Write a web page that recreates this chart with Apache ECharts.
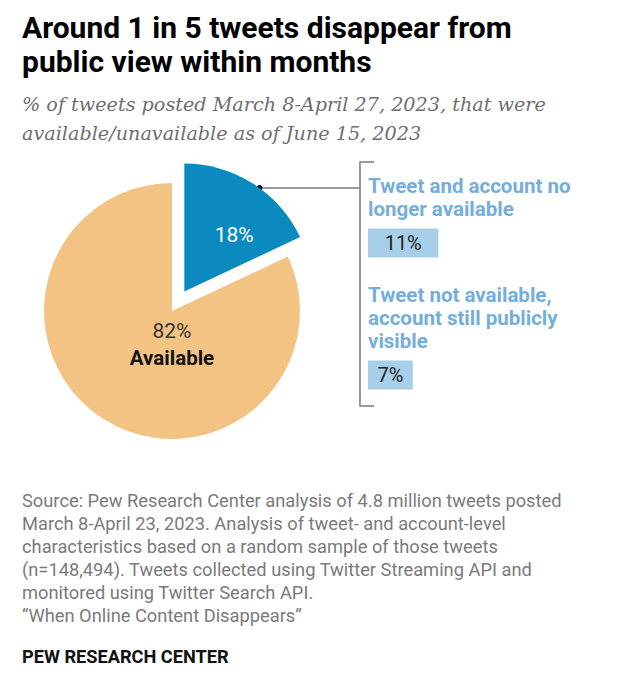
<!DOCTYPE html>
<html>
<head>
    <meta charset="utf-8">
    <title>Tweets disappearing</title>
    <script src="https://cdn.jsdelivr.net/npm/echarts@6/dist/echarts.min.js"></script>
    <style>
        body { margin: 0; background: #fff; }
    </style>
</head>
<body>
    <div id="main" style="width: 624px;height:680px;"></div>

    <script type="text/javascript">
        // data
        var sliceNames = ['Not available', 'Available']
        var sliceValues = [18, 82]
        var breakdownNames = [
            'Tweet and account no\nlonger available',
            'Tweet not available,\naccount still publicly\nvisible'
        ]
        var breakdownValues = [11, 7]

        var titleText = 'Around 1 in 5 tweets disappear from\npublic view within months'
        var subText = '% of tweets posted March 8-April 27, 2023, that were\navailable/unavailable as of June 15, 2023'
        var sourceText = 'Source: Pew Research Center analysis of 4.8 million tweets posted\n' +
            'March 8-April 23, 2023. Analysis of tweet- and account-level\n' +
            'characteristics based on a random sample of those tweets\n' +
            '(n=148,494). Tweets collected using Twitter Streaming API and\n' +
            'monitored using Twitter Search API.\n' +
            '\u201cWhen Online Content Disappears\u201d'

        var font = 'Roboto, "Liberation Sans", sans-serif'

        // pie geometry
        var cx = 172, cy = 311, R = 128, pull = 23

        var drawChart = function () {
            var myChart = echarts.init(document.getElementById('main'), null, {renderer: 'svg'})

            // connector from the pulled-out slice to the bracket
            var total = sliceValues[0] + sliceValues[1]
            var mid = (90 - sliceValues[0] / total * 180 - 3) * Math.PI / 180
            var sx = cx + pull * Math.cos(mid)
            var sy = cy - pull * Math.sin(mid)
            var dotX = sx + R * Math.cos(mid)
            var dotY = sy - R * Math.sin(mid)
            var bx = 360, bTop = 162, bBottom = 406, tick = 14

            var option = {
                animation: false,
                title: [{
                    text: titleText,
                    left: 22, top: 10, padding: 0,
                    textStyle: {fontFamily: font, fontSize: 30, fontWeight: 'bold', color: '#000', lineHeight: 34}
                }, {
                    text: subText,
                    left: 22, top: 90, padding: 0,
                    textStyle: {fontFamily: '"DejaVu Serif", serif', fontStyle: 'italic', fontSize: 19.2, fontWeight: 'normal', color: '#6e6e6e', lineHeight: 29}
                }, {
                    text: sourceText,
                    left: 22, top: 489, padding: 0,
                    textStyle: {fontFamily: font, fontSize: 18.3, fontWeight: 'normal', color: '#7a7a7a', lineHeight: 23}
                }, {
                    text: 'PEW RESEARCH CENTER',
                    left: 22, top: 646, padding: 0,
                    textStyle: {fontFamily: font, fontSize: 18.2, fontWeight: 'bold', color: '#111', lineHeight: 20}
                }],
                grid: {left: 368, top: 177, width: 192, height: 264},
                xAxis: {type: 'value', min: 0, max: 30, show: false},
                yAxis: {
                    type: 'category',
                    inverse: true,
                    data: breakdownNames,
                    axisLine: {show: false},
                    axisTick: {show: false},
                    axisLabel: {
                        inside: true,
                        margin: 0,
                        verticalAlign: 'bottom',
                        padding: [0, 0, 23, 0],
                        lineHeight: 23,
                        fontFamily: font,
                        fontSize: 20.5,
                        fontWeight: 'bold',
                        color: '#74aedb'
                    }
                },
                series: [{
                    type: 'bar',
                    data: breakdownValues,
                    barWidth: 29,
                    itemStyle: {color: '#a8cfea'},
                    label: {
                        show: true,
                        position: 'inside',
                        formatter: '{c}%',
                        fontFamily: font,
                        fontSize: 20,
                        color: '#222'
                    },
                    silent: true
                }, {
                    type: 'pie',
                    center: [cx, cy],
                    radius: R,
                    startAngle: 90,
                    clockwise: true,
                    selectedMode: 'single',
                    selectedOffset: pull,
                    emphasis: {disabled: true},
                    labelLine: {show: false},
                    data: [{
                        name: sliceNames[0],
                        value: sliceValues[0],
                        selected: true,
                        itemStyle: {color: '#0b8abf'},
                        label: {
                            position: 'inside',
                            formatter: '{c}%',
                            fontFamily: font,
                            fontSize: 21,
                            color: '#fff',
                            padding: [0, 0, 22, 28]
                        }
                    }, {
                        name: sliceNames[1],
                        value: sliceValues[1],
                        itemStyle: {color: '#f3c384'},
                        label: {
                            position: 'center',
                            formatter: '{a|{c}%}\n{b|{b}}',
                            padding: [67, 0, 0, 0],
                            rich: {
                                a: {fontFamily: font, fontSize: 21, color: '#333', lineHeight: 27},
                                b: {fontFamily: font, fontSize: 20.5, fontWeight: 'bold', color: '#111', lineHeight: 27}
                            }
                        }
                    }]
                }],
                graphic: [{
                    type: 'polyline',
                    shape: {points: [[bx + tick, bTop], [bx, bTop], [bx, bBottom], [bx + tick, bBottom]]},
                    style: {stroke: '#7b7b7b', lineWidth: 1.5, fill: null}
                }, {
                    type: 'line',
                    shape: {x1: dotX, y1: dotY, x2: bx, y2: dotY},
                    style: {stroke: '#7b7b7b', lineWidth: 1.5}
                }, {
                    type: 'circle',
                    shape: {cx: dotX, cy: dotY, r: 3},
                    style: {fill: '#111'}
                }]
            }
            myChart.setOption(option)
        }

        drawChart()
    </script>
</body>
</html>
